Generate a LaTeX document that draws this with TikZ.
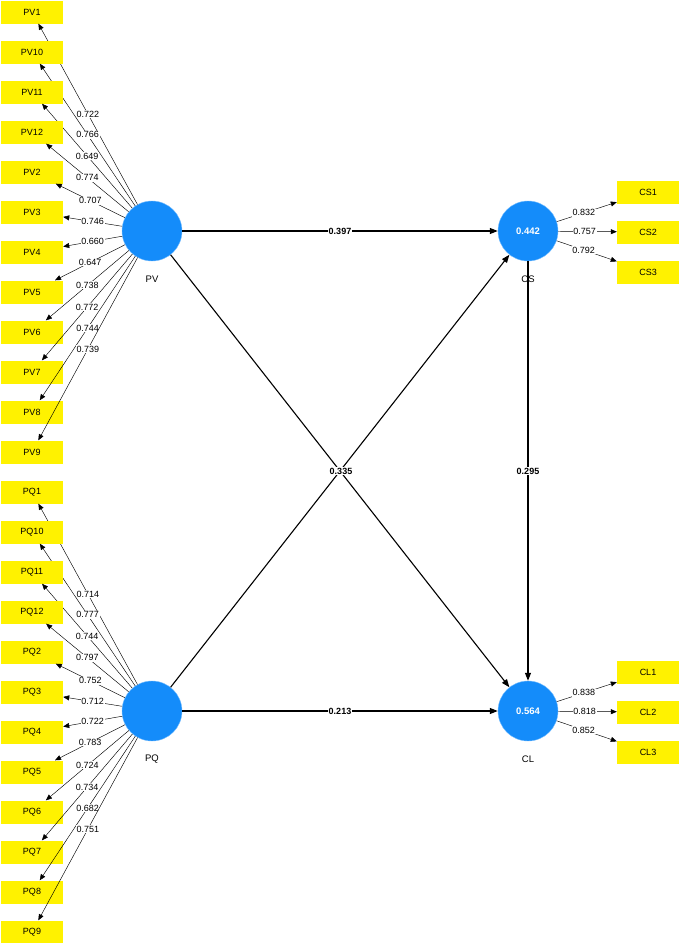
\documentclass[tikz,border=0pt]{standalone}
\usepackage{fontspec}
\setmainfont{Liberation Sans}
\usetikzlibrary{arrows.meta}
\begin{document}
\begin{tikzpicture}[x=1pt,y=-1pt,
 ind/.style={fill=yellow,minimum width=62pt,minimum height=23pt,inner sep=0pt,font=\fontsize{9}{10}\selectfont},
 lv/.style={circle,fill={rgb,255:red,20;green,140;blue,250},draw={rgb,255:red,120;green,190;blue,255},minimum size=60pt,inner sep=0pt,text=white,font=\bfseries\fontsize{9.5}{11}\selectfont},
 ll/.style={font=\fontsize{9.5}{11}\selectfont},
 ld/.style={-{Triangle[length=6pt,width=5pt]},line width=0.45pt},
 st/.style={-{Triangle[length=8pt,width=6pt]},line width=1.1pt},
 lab/.style={fill=white,inner sep=0.8pt,font=\fontsize{9}{10}\selectfont},
 slab/.style={fill=white,inner sep=1pt,font=\bfseries\fontsize{9}{10}\selectfont}]
\useasboundingbox (0,0) rectangle (680,943);
\node[lv] (pv) at (152,231) {};
\node[lv] (pq) at (152,711) {};
\node[lv] (cs) at (528,231) {0.442};
\node[lv] (cl) at (528,711) {0.564};
\node[ll] (pvl) at (152,279) {PV};
\node[ll] (pql) at (152,759) {PQ};
\node[ll] (csl) at (528,279) {CS};
\node[ll] (cll) at (528,759) {CL};
\foreach \n/\v [count=\i from 0] in {1/0.722,10/0.766,11/0.649,12/0.774,2/0.707,3/0.746,4/0.660,5/0.647,6/0.738,7/0.772,8/0.744,9/0.739}{
  \node[ind] (pv\n) at (32,12+40*\i) {PV\n};
  \draw[ld] (pv) -- (pv\n) node[lab,pos=0.5] {\v};
}
\foreach \n/\v [count=\i from 0] in {1/0.714,10/0.777,11/0.744,12/0.797,2/0.752,3/0.712,4/0.722,5/0.783,6/0.724,7/0.734,8/0.682,9/0.751}{
  \node[ind] (pq\n) at (32,492+40*\i) {PQ\n};
  \draw[ld] (pq) -- (pq\n) node[lab,pos=0.5] {\v};
}
\foreach \n/\v [count=\i from 0] in {1/0.832,2/0.757,3/0.792}{
  \node[ind] (cs\n) at (648,192+40*\i) {CS\n};
  \draw[ld] (cs) -- (cs\n) node[lab,pos=0.45] {\v};
}
\foreach \n/\v [count=\i from 0] in {1/0.838,2/0.818,3/0.852}{
  \node[ind] (cl\n) at (648,672+40*\i) {CL\n};
  \draw[ld] (cl) -- (cl\n) node[lab,pos=0.45] {\v};
}
\draw[st] (pv) -- (cs) node[slab,midway] {0.397};
\draw[st] (pq) -- (cl) node[slab,midway] {0.213};
\draw[st] (pv) -- (cl);
\draw[st] (pq) -- (cs);
\draw[st] (cs) -- (cl) node[slab,midway] {0.295};
\node[slab] (x) at (341,471) {0.335};
\end{tikzpicture}
\end{document}
